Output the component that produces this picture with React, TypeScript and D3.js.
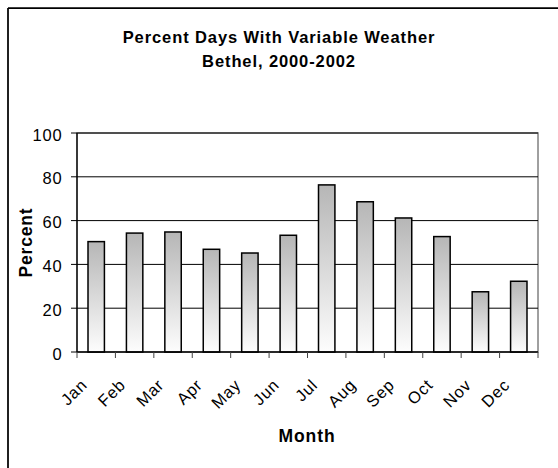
import React from "react";
import * as d3 from "d3";

// Monthly share of days with variable weather, Bethel 2000-2002
const months = ["Jan", "Feb", "Mar", "Apr", "May", "Jun", "Jul", "Aug", "Sep", "Oct", "Nov", "Dec"];
const percentValues = [50.4, 54.3, 54.8, 46.9, 45.2, 53.3, 76.3, 68.6, 61.2, 52.7, 27.5, 32.3];
const yTicks = [0, 20, 40, 60, 80, 100];
const titleLines = ["Percent Days With Variable Weather", "Bethel, 2000-2002"];

const WIDTH = 558;
const HEIGHT = 468;
const FONT = "'Liberation Sans', Arial, Helvetica, sans-serif";

const plot = { left: 77, right: 538, top: 133, bottom: 352 };

export default function App() {
  const x = d3
    .scaleBand<string>()
    .domain(months)
    .range([plot.left, plot.right])
    .paddingInner(0.573)
    .paddingOuter(0.2865);

  const y = d3.scaleLinear().domain([0, 100]).range([plot.bottom, plot.top]);

  const step = x.step();
  const boundaries = d3.range(months.length + 1).map((i) => plot.left + i * step);

  return (
    <svg
      width={WIDTH}
      height={HEIGHT}
      style={{ position: "absolute", left: 0, top: 0, background: "#fff" }}
      fontFamily={FONT}
    >
      <defs>
        <linearGradient id="barFill" x1="0" y1="0" x2="0" y2="1">
          <stop offset="0" stopColor="#b6b6b6" />
          <stop offset="1" stopColor="#fdfdfd" />
        </linearGradient>
      </defs>

      {/* chart frame (left and top edges) */}
      <line x1={8} y1={8} x2={WIDTH} y2={8} stroke="#000" strokeWidth={1.75} />
      <line x1={8} y1={8} x2={8} y2={HEIGHT} stroke="#000" strokeWidth={1.75} />

      {/* title */}
      <text x={279} y={43} textAnchor="middle" fontWeight="bold" fontSize={16.5} letterSpacing={0.9} fill="#000">
        {titleLines[0]}
      </text>
      <text x={279} y={66.5} textAnchor="middle" fontWeight="bold" fontSize={16.5} letterSpacing={0.9} fill="#000">
        {titleLines[1]}
      </text>

      {/* plot area border */}
      <rect
        x={plot.left}
        y={plot.top}
        width={plot.right - plot.left}
        height={plot.bottom - plot.top}
        fill="none"
        stroke="#808080"
        strokeWidth={1.5}
      />

      {/* horizontal gridlines */}
      {yTicks
        .filter((t) => t > 0)
        .map((t) => (
          <line key={`g${t}`} x1={plot.left} x2={plot.right} y1={y(t)} y2={y(t)} stroke="#000" strokeWidth={1} />
        ))}

      {/* bars */}
      {months.map((m, i) => (
        <rect
          key={m}
          x={x(m)}
          y={y(percentValues[i])}
          width={x.bandwidth()}
          height={y(0) - y(percentValues[i])}
          fill="url(#barFill)"
          stroke="#000"
          strokeWidth={1.5}
        />
      ))}

      {/* y axis */}
      <line x1={plot.left} x2={plot.left} y1={plot.top} y2={plot.bottom} stroke="#000" strokeWidth={1.3} />
      {yTicks.map((t) => (
        <g key={`y${t}`}>
          <line x1={plot.left - 6} x2={plot.left} y1={y(t)} y2={y(t)} stroke="#000" strokeWidth={1} />
          <text x={62.5} y={y(t) + 7.5} textAnchor="end" fontSize={16.5} letterSpacing={0.8} fill="#000">
            {t}
          </text>
        </g>
      ))}

      {/* x axis */}
      <line x1={plot.left} x2={plot.right} y1={plot.bottom} y2={plot.bottom} stroke="#000" strokeWidth={1.3} />
      {boundaries.map((bx, i) => (
        <line key={`t${i}`} x1={bx} x2={bx} y1={plot.bottom} y2={plot.bottom + 6} stroke="#444" strokeWidth={1} />
      ))}
      {months.map((m) => {
        const cx = (x(m) ?? 0) + x.bandwidth() / 2;
        return (
          <text
            key={`l${m}`}
            transform={`translate(${cx - 8},${386}) rotate(-45)`}
            textAnchor="end"
            fontSize={16.5}
            letterSpacing={0.8}
            fill="#000"
          >
            {m}
          </text>
        );
      })}

      {/* axis titles */}
      <text
        transform={`translate(32,242.5) rotate(-90)`}
        textAnchor="middle"
        fontWeight="bold"
        fontSize={17.5}
        letterSpacing={0.8}
        fill="#000"
      >
        Percent
      </text>
      <text x={307} y={442} textAnchor="middle" fontWeight="bold" fontSize={17.5} letterSpacing={0.9} fill="#000">
        Month
      </text>
    </svg>
  );
}
